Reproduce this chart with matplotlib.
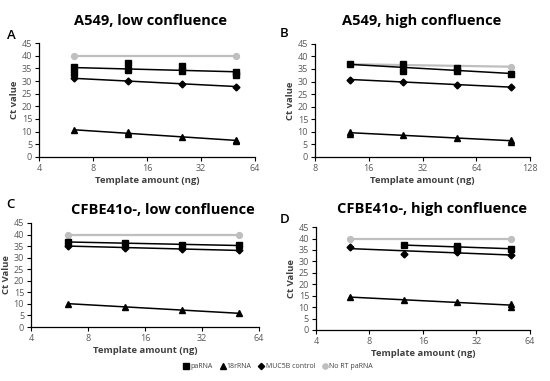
import numpy as np
import matplotlib
matplotlib.use("Agg")
import matplotlib.pyplot as plt
from matplotlib.lines import Line2D

plt.rcParams['font.family'] = ['Open Sans', 'DejaVu Sans']

# ---------------- data ----------------
titles = ["A549, low confluence", "A549, high confluence",
          "CFBE41o-, low confluence", "CFBE41o-, high confluence"]
letters = ["A", "B", "C", "D"]
ylabels = ["Ct value", "Ct value", "Ct Value", "Ct Value"]
xticks_low = [4, 8, 16, 32, 64]
xticks_high = [8, 16, 32, 64, 128]
series_names = ["paRNA", "18rRNA", "MUC5B control", "No RT paRNA"]

# Panel A
A_pa_x = [6.25, 6.25, 12.5, 12.5, 25, 25, 50, 50]
A_pa_y = [35.7, 33.2, 37.2, 34.2, 36.0, 33.9, 33.5, 32.2]
A_rr_x = [6.25, 12.5, 12.5, 25, 50, 50]
A_rr_y = [10.6, 9.9, 9.1, 7.8, 6.8, 6.3]
A_mu_x = [6.25, 12.5, 25, 50]
A_mu_y = [31.0, 30.1, 28.9, 27.8]
A_no_x = [6.25, 50]
A_no_y = [40.0, 40.0]

# Panel B
B_pa_x = [12.5, 25, 25, 50, 50, 100]
B_pa_y = [37.0, 36.8, 34.0, 35.2, 34.0, 33.1]
B_rr_x = [12.5, 12.5, 25, 50, 100, 100]
B_rr_y = [10.0, 9.2, 8.7, 7.7, 6.7, 6.1]
B_mu_x = [12.5, 25, 50, 100]
B_mu_y = [30.8, 29.9, 28.7, 27.8]
B_no_x = [12.5, 100]
B_no_y = [36.9, 35.9]

# Panel C
C_pa_x = [6.25, 12.5, 25, 50]
C_pa_y = [36.8, 36.5, 35.3, 35.5]
C_rr_x = [6.25, 12.5, 25, 50]
C_rr_y = [10.1, 8.7, 7.4, 5.9]
C_mu_x = [6.25, 12.5, 25, 50]
C_mu_y = [35.2, 34.2, 33.6, 33.3]
C_no_x = [6.25, 50]
C_no_y = [40.0, 40.0]

# Panel D
D_pa_x = [12.5, 25, 25, 50]
D_pa_y = [37.2, 36.6, 35.9, 35.6]
D_rr_x = [6.25, 12.5, 25, 50, 50]
D_rr_y = [14.2, 13.3, 12.3, 11.3, 10.2]
D_mu_x = [6.25, 12.5, 25, 50]
D_mu_y = [36.3, 33.3, 34.2, 32.9]
D_no_x = [6.25, 50]
D_no_y = [40.0, 40.0]

panels = [
    (A_pa_x, A_pa_y, A_rr_x, A_rr_y, A_mu_x, A_mu_y, A_no_x, A_no_y, xticks_low),
    (B_pa_x, B_pa_y, B_rr_x, B_rr_y, B_mu_x, B_mu_y, B_no_x, B_no_y, xticks_high),
    (C_pa_x, C_pa_y, C_rr_x, C_rr_y, C_mu_x, C_mu_y, C_no_x, C_no_y, xticks_low),
    (D_pa_x, D_pa_y, D_rr_x, D_rr_y, D_mu_x, D_mu_y, D_no_x, D_no_y, xticks_low),
]

# ---------------- layout ----------------
fig = plt.figure(figsize=(5.5, 3.81), dpi=100)
axes_rects = [
    [0.0709, 0.588, 0.3927, 0.299],
    [0.5727, 0.588, 0.3910, 0.297],
    [0.0564, 0.1417, 0.4145, 0.273],
    [0.5745, 0.134, 0.3890, 0.270],
]
title_pos = [(0.273, 0.945), (0.767, 0.945), (0.296, 0.449), (0.785, 0.451)]
letter_pos = [(0.012, 0.908), (0.508, 0.911), (0.012, 0.462), (0.508, 0.425)]

grey_tick = '#595959'


def trend(ax, xs, ys, color='black', lw=1.1):
    lx = np.log(np.asarray(xs, float))
    k, b = np.polyfit(lx, np.asarray(ys, float), 1)
    xx = np.array([min(xs), max(xs)], float)
    ax.plot(xx, k * np.log(xx) + b, color=color, lw=lw, zorder=2)


for i, (rect, p) in enumerate(zip(axes_rects, panels)):
    pa_x, pa_y, rr_x, rr_y, mu_x, mu_y, no_x, no_y, xt = p
    ax = fig.add_axes(rect)
    ax.set_xscale('log', base=2)
    ax.set_xlim(xt[0], xt[-1])
    ax.set_ylim(0, 45)
    ax.set_xticks(xt)
    ax.set_xticklabels([str(t) for t in xt])
    ax.xaxis.set_minor_locator(matplotlib.ticker.NullLocator())
    ax.set_yticks(range(0, 46, 5))
    for s in ['top', 'right']:
        ax.spines[s].set_visible(False)
    for s in ['left', 'bottom']:
        ax.spines[s].set_color('black')
        ax.spines[s].set_linewidth(0.9)
    ax.tick_params(axis='both', labelsize=6.5, colors='black', labelcolor=grey_tick,
                   length=3, width=0.8, pad=2)

    # No RT
    ax.plot(no_x, no_y, color='#bfbfbf', lw=1.6, marker='o', ms=4.2,
            markeredgecolor='#bfbfbf', zorder=1)
    # trendlines
    trend(ax, pa_x, pa_y)
    trend(ax, rr_x, rr_y)
    trend(ax, mu_x, mu_y)
    # points
    ax.plot(pa_x, pa_y, ls='none', marker='s', ms=5, color='black', zorder=3)
    ax.plot(rr_x, rr_y, ls='none', marker='^', ms=5, color='black', zorder=3)
    ax.plot(mu_x, mu_y, ls='none', marker='D', ms=3.5, color='black', zorder=3)

    ax.set_ylabel(ylabels[i], fontsize=6.8, fontweight='bold', color='#404040', labelpad=2)
    ax.set_xlabel("Template amount (ng)", fontsize=6.8, fontweight='bold', color='#404040',
                  labelpad=2)

    fig.text(title_pos[i][0], title_pos[i][1], titles[i], ha='center', va='center',
             fontsize=10.5, fontweight='bold', color='black')
    fig.text(letter_pos[i][0], letter_pos[i][1], letters[i], ha='left', va='center',
             fontsize=9.5, fontweight='semibold', color='black')

# legend
handles = [
    Line2D([], [], ls='none', marker='s', ms=4.2, color='black'),
    Line2D([], [], ls='none', marker='^', ms=4.2, color='black'),
    Line2D([], [], ls='none', marker='D', ms=3.2, color='black'),
    Line2D([], [], ls='none', marker='o', ms=3.8, color='#bfbfbf'),
]
fig.legend(handles, series_names, loc='center', bbox_to_anchor=(0.505, 0.037), ncol=4,
           frameon=False, fontsize=5, handletextpad=0.1, columnspacing=0.9,
           handlelength=1.0, labelcolor='#404040')

fig.savefig("out.png", dpi=100)
